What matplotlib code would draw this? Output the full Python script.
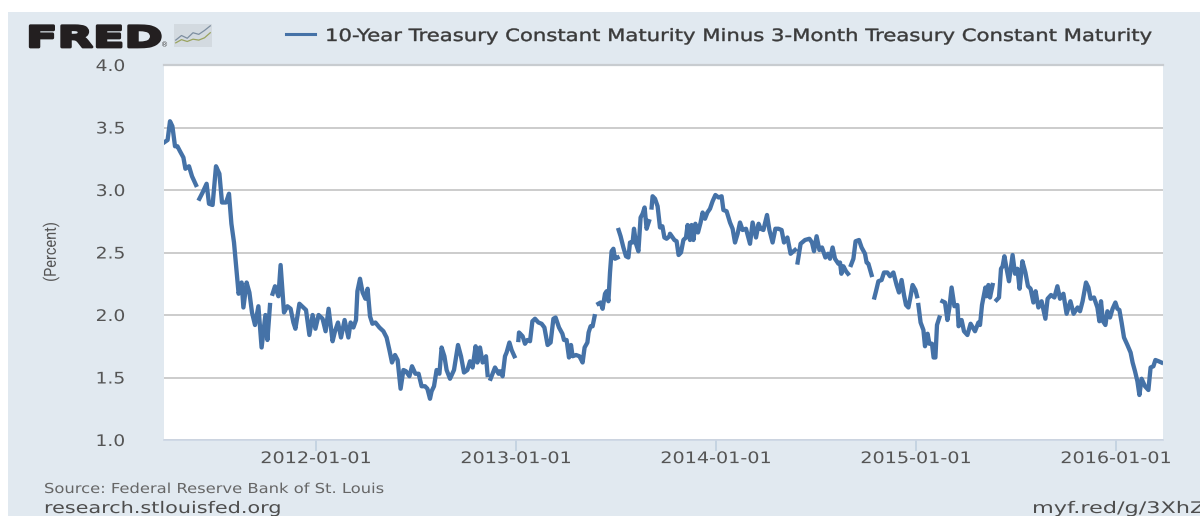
import numpy as np
import matplotlib
matplotlib.use("Agg")
import matplotlib.pyplot as plt
from matplotlib.patches import Rectangle
from matplotlib.patheffects import AbstractPathEffect
from matplotlib.transforms import Affine2D

nan = np.nan
TITLE = "10-Year Treasury Constant Maturity Minus 3-Month Treasury Constant Maturity"
Y_TICKS = [1.0, 1.5, 2.0, 2.5, 3.0, 3.5, 4.0]
X_TICKS = [2012, 2013, 2014, 2015, 2016]
X_LABELS = ["2012-01-01", "2013-01-01", "2014-01-01", "2015-01-01", "2016-01-01"]

t1 = [.24,.258,.27,.282,.295,.307,.32,.337,.347,.365,.38,.40,nan,.417,.433,.453,.465,.483,.50,.517,.53,.55,.565,.577,.59,.60,.613,.628,.637,.653,.667,.68,.695,.712,.728,.747,.757,.77,nan,.783,.795,.812,.823,.84,.857,.873,.887,.897,.917,.937,.95,.967,.983,.997]
v1 = [3.38,3.40,3.55,3.51,3.35,3.35,3.31,3.26,3.17,3.19,3.11,3.04,nan,2.93,2.98,3.05,2.89,2.88,3.19,3.13,2.90,2.90,2.97,2.73,2.58,2.40,2.17,2.26,2.06,2.26,2.18,2.02,1.92,2.07,1.74,2.00,1.80,2.08,nan,2.17,2.23,2.15,2.40,2.02,2.07,2.05,1.94,1.89,2.09,2.06,2.04,1.84,2.00,1.89]
t2 = [.013,.033,.048,.063,.083,.095,.11,.125,.143,.162,.173,.187,.20,.207,.22,.233,.247,.258,.27,.282,.297,.317,.337,.353,.367,.38,.395,.408,.423,.437,.45,.467,.48,.497,.513,.528,.545,.557,.57,.578,.59,.603,.617,.628,.642,.653,.67,.69,.71,.725,.74,.757,.77,.783,.798,.807,.82,.833,.85,.858,nan,.873,.895,.913]
v2 = [2.00,1.97,1.87,2.05,1.79,1.87,1.94,1.82,1.96,1.82,1.94,1.90,1.96,2.19,2.29,2.18,2.13,2.21,1.99,1.93,1.94,1.90,1.87,1.82,1.72,1.62,1.68,1.64,1.41,1.56,1.55,1.51,1.59,1.53,1.53,1.43,1.43,1.41,1.33,1.39,1.43,1.56,1.53,1.74,1.67,1.56,1.49,1.56,1.76,1.67,1.54,1.56,1.63,1.58,1.75,1.62,1.74,1.62,1.67,1.52,nan,1.49,1.58,1.53]
t3 = [.92,.933,.945,.953,.967,.978,.992,nan,1.012,1.015,1.033,1.045,1.057,1.07,1.082,1.095,1.112,1.128,1.142,1.158,1.173,1.187,1.198,1.215,1.232,1.24,1.253,1.265,1.275,1.283,1.30,1.317,1.333,1.343,1.357,1.363,1.373,1.383,1.393,nan,1.412,1.423,1.433,1.445,1.453,1.462,1.47,1.478,1.487,1.495,1.508,nan,1.513,1.523,1.537,1.55,1.562,1.57,1.583,1.59,1.60,1.612,1.623,1.633,1.643,1.653,1.665,nan,1.678,1.683,1.695,1.708,1.72,1.732,1.742,1.753,1.767]
v3 = [1.55,1.51,1.67,1.70,1.78,1.72,1.67,nan,1.80,1.86,1.83,1.77,1.80,1.79,1.95,1.97,1.94,1.93,1.90,1.76,1.78,1.97,1.98,1.90,1.85,1.80,1.80,1.66,1.76,1.67,1.68,1.67,1.62,1.74,1.78,1.86,1.91,1.91,1.99,nan,2.09,2.10,2.05,2.17,2.19,2.11,2.34,2.51,2.53,2.45,2.46,nan,2.68,2.63,2.54,2.47,2.46,2.58,2.58,2.69,2.57,2.51,2.78,2.81,2.86,2.69,2.75,nan,2.86,2.95,2.93,2.87,2.70,2.71,2.62,2.61,2.63]
t4 = [.77,.792,.803,.813,.825,.837,.85,.858,.87,.878,.887,.897,.91,.923,.933,.945,.957,.97,.983,.997,1.013,1.028,1.037,1.053,1.07,1.083,1.095,1.108,1.12,1.133,1.15,1.17,1.183,1.20,1.213,1.223,1.237,1.255,1.267,1.283,1.297,1.312,1.328,1.34,1.357,1.373,1.395,nan,1.408,1.423,1.445,1.467,1.48,1.49,1.503,1.517,1.53,1.547,1.56,1.57,1.583,1.595,1.612,1.62,1.627,1.637,1.65,1.66,nan,1.675,1.687,1.698,1.715,1.728,1.745,1.753,1.762,1.778]
v4 = [2.65,2.60,2.59,2.48,2.50,2.60,2.62,2.72,2.60,2.72,2.60,2.73,2.66,2.74,2.82,2.77,2.82,2.85,2.91,2.96,2.94,2.95,2.84,2.83,2.74,2.69,2.58,2.65,2.74,2.68,2.69,2.57,2.74,2.62,2.73,2.69,2.68,2.80,2.68,2.58,2.69,2.69,2.68,2.58,2.62,2.49,2.52,nan,2.42,2.57,2.60,2.61,2.58,2.51,2.63,2.52,2.54,2.46,2.49,2.45,2.54,2.45,2.41,2.42,2.33,2.39,2.35,2.33,nan,2.40,2.45,2.59,2.60,2.54,2.49,2.42,2.41,2.32]
t5 = [nan,.792,.80,.812,.828,.84,.857,.87,.887,.903,.915,.928,.94,.95,.962,.973,.983,.997,1.005,nan,1.012,1.023,1.037,1.045,1.058,1.067,1.08,1.088,1.097,1.105,1.117,nan,1.132,1.145,1.157,1.167,1.178,1.192,1.207,1.213,1.228,1.24,1.257,1.273,1.295,1.312,1.32,1.33,1.347,1.353,1.362,1.37,1.383,nan,1.403,1.415,1.425,1.433,1.442,1.453,1.465]
v5 = [nan,2.14,2.19,2.27,2.28,2.34,2.34,2.31,2.34,2.24,2.18,2.28,2.16,2.08,2.06,2.15,2.24,2.20,2.15,nan,2.08,1.94,1.88,1.75,1.85,1.77,1.77,1.66,1.66,1.92,1.98,nan,2.11,2.10,1.96,2.06,2.22,2.07,2.08,1.91,1.96,1.87,1.84,1.93,1.87,1.94,1.92,2.08,2.22,2.15,2.24,2.14,2.24,nan,2.12,2.14,2.37,2.39,2.47,2.37,2.27]
t6 = [1.483,1.495,1.507,1.518,1.532,1.547,1.56,1.573,1.587,1.598,1.612,1.628,1.647,1.658,1.675,1.692,1.707,1.72,1.737,1.753,1.772,1.788,1.808,1.82,1.833,1.85,1.862,1.873,1.89,1.907,1.917,1.925,1.935,1.947,1.957,1.97,1.983,1.997,2.007,2.017,2.028,2.04,2.057,2.073,2.083,2.095,2.107,2.117,2.128,2.145,2.162,2.173,2.187,2.197,2.213,2.227]
v6 = [2.48,2.33,2.37,2.21,2.43,2.34,2.23,2.21,2.10,2.19,2.06,2.11,1.97,2.13,2.16,2.14,2.23,2.13,2.17,2.01,2.11,2.01,2.06,2.03,2.11,2.26,2.22,2.13,2.14,2.06,1.95,2.11,1.95,1.92,2.03,1.98,2.05,2.10,2.05,2.04,1.94,1.82,1.76,1.70,1.62,1.55,1.47,1.36,1.49,1.43,1.40,1.58,1.59,1.64,1.63,1.62]

years = np.concatenate([2011 + np.array(t1), 2012 + np.array(t2), 2012 + np.array(t3),
                        2013 + np.array(t4), 2014 + np.array(t5), 2014 + np.array(t6)])
values = np.array(v1 + v2 + v3 + v4 + v5 + v6)


class Stretch(AbstractPathEffect):
    """Widen glyph outlines along the text direction (the reference image is stretched)."""
    def __init__(self, sx, anchor="left", stroke=0.0):
        super().__init__()
        self.sx, self.anchor, self.stroke = sx, anchor, stroke

    def draw_path(self, renderer, gc, tpath, affine, rgbFace=None):
        ext = tpath.get_extents()
        ref = {"left": 0.0, "center": 0.5 * (ext.x0 + ext.x1), "right": ext.x1}[self.anchor]
        aff = Affine2D().translate(-ref, 0).scale(self.sx, 1).translate(ref, 0) + affine
        gc0 = renderer.new_gc()
        gc0.copy_properties(gc)
        if self.stroke:
            gc0.set_linewidth(self.stroke)
            gc0.set_foreground(rgbFace)
        renderer.draw_path(gc0, tpath, aff, rgbFace)
        gc0.restore()


W, H = 1200, 516
fig = plt.figure(figsize=(W / 100, H / 100), dpi=100, facecolor="white")
fig.patches.append(Rectangle((8 / W, 0), 1 - 8 / W, 1 - 12 / H, transform=fig.transFigure,
                             facecolor="#e1e9f0", edgecolor="none", zorder=-5))

ax = fig.add_axes([164 / W, (H - 440) / H, (1163 - 164) / W, (440 - 65) / H])
ax.set_facecolor("white")
ax.plot(years, values, color="#4572a7", lw=3.1, solid_joinstyle="round", zorder=3)
ax.set_xlim(2011.24, 2016.235)
ax.set_ylim(1.0, 4.0)
ax.set_yticks(Y_TICKS)
ax.set_yticklabels([f"{v:.1f}" for v in Y_TICKS])
ax.set_xticks(X_TICKS)
ax.set_xticklabels(X_LABELS)
ax.grid(axis="y", color="#c8c8c8", lw=1.3, zorder=1)
for s in ["left", "right"]:
    ax.spines[s].set_visible(False)
ax.spines["top"].set_color("#c8ccd0")
ax.spines["top"].set_linewidth(1.6)
ax.spines["bottom"].set_color("#ccd6e4")
ax.spines["bottom"].set_linewidth(1.2)
ax.tick_params(axis="y", length=0, pad=28, labelsize=11.5, labelcolor="#555555")
ax.tick_params(axis="x", length=8, width=1.2, color="#c0d0e0", pad=0, labelsize=11.5, labelcolor="#555555")
for lab in ax.get_xticklabels():
    lab.set_path_effects([Stretch(1.2, "center")])
for lab in ax.get_yticklabels():
    lab.set_path_effects([Stretch(1.17, "right")])

fig.text(51 / W, 1 - 252 / H, "(Percent)", rotation=90, ha="center", va="center",
         family="Roboto", fontsize=12, color="#555555", path_effects=[Stretch(0.87, "center")])
fig.text(26 / W, 1 - 47 / H, "FRED", ha="left", va="baseline", family="DejaVu Sans", weight="bold",
         fontsize=21, color="#231f20", path_effects=[Stretch(1.58, "left", stroke=2.0)])
fig.text(165 / W, 1 - 47 / H, "®", ha="center", va="baseline", fontsize=5, color="#444444")
fig.text(325 / W, 1 - 41 / H, TITLE, ha="left", va="baseline", fontsize=12.2, color="#3a3a3a",
         path_effects=[Stretch(1.25, "left", stroke=0.3)])
fig.add_artist(plt.Line2D([286 / W, 315 / W], [1 - 34 / H] * 2, color="#4572a7", lw=2.2,
                          transform=fig.transFigure))
fig.text(44 / W, 1 - 493 / H, "Source: Federal Reserve Bank of St. Louis", ha="left", va="baseline",
         fontsize=9.9, color="#666666", path_effects=[Stretch(1.19, "left")])
fig.text(44 / W, 1 - 513 / H, "research.stlouisfed.org", ha="left", va="baseline", fontsize=11.5,
         color="#4d4d4d", path_effects=[Stretch(1.3, "left")])
fig.text(1032 / W, 1 - 513 / H, "myf.red/g/3XhZ", ha="left", va="baseline", fontsize=11.5,
         color="#4d4d4d", path_effects=[Stretch(1.4, "left")])

# small logo icon beside the wordmark
logo_upper = [0.30, 0.50, 0.38, 0.62, 0.55, 0.72, 0.92]
logo_lower = [0.18, 0.32, 0.24, 0.34, 0.30, 0.40, 0.62]
logo = fig.add_axes([174 / W, 1 - 47 / H, 38 / W, 23 / H], facecolor="#d3dae0")
logo.plot(logo_upper, color="#7d8ea0", lw=0.9)
logo.plot(logo_lower, color="#9aa35f", lw=0.9)
logo.set_ylim(0, 1)
logo.set_xticks([])
logo.set_yticks([])
for s in logo.spines.values():
    s.set_visible(False)

fig.savefig("out.png", dpi=100, facecolor=fig.get_facecolor())
